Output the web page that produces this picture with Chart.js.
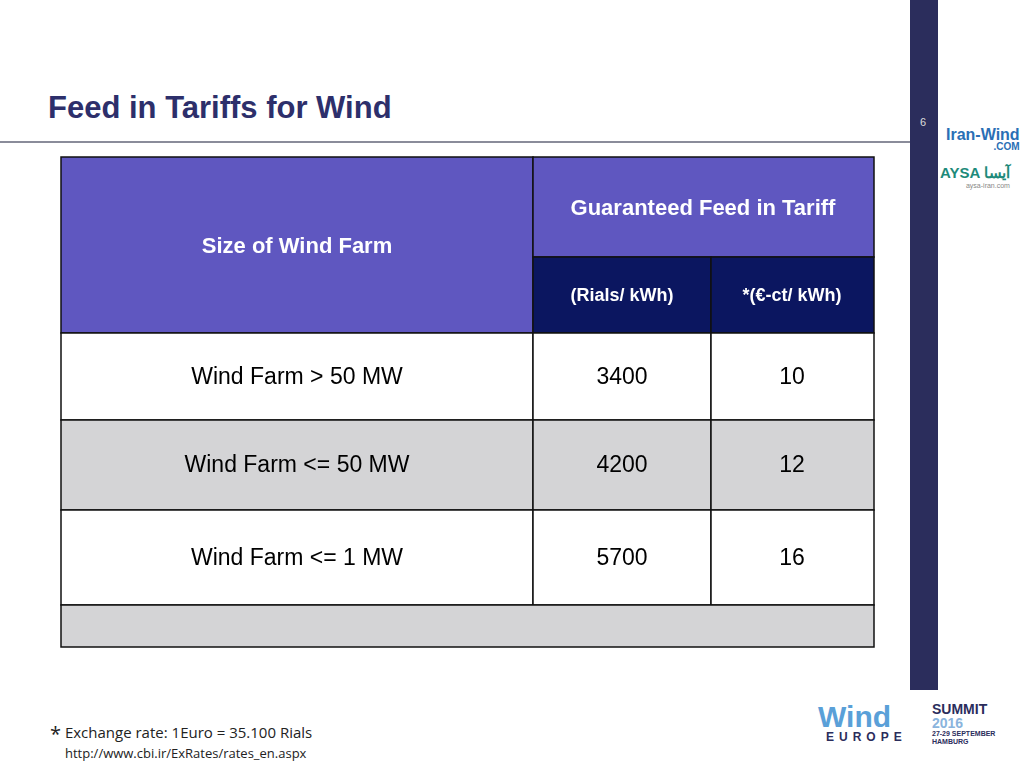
<!DOCTYPE html>
<html>
<head>
<meta charset="utf-8">
<script src="https://cdn.jsdelivr.net/npm/chart.js@4"></script>
<style>
  body { margin: 0; width: 1024px; height: 768px; position: relative; background: #fff; font-family: Arial, "Liberation Sans", sans-serif; overflow: hidden; }
  #title { position: absolute; left: 48px; top: 90px; font-size: 31px; font-weight: bold; color: #2d2f6b; }
  #rule { position: absolute; left: 0; top: 141px; width: 910px; height: 2px; background: #8a8c9a; }
  #sidebar { position: absolute; left: 910px; top: 0; width: 28px; height: 690px; background: #2b2d5c; }
  #page { position: absolute; left: 920px; top: 116px; font-size: 11px; color: #ddd; }
  #logo1 { position: absolute; left: 946px; top: 126px; font-size: 16px; font-weight: bold; color: #2a6fb5; white-space: nowrap; }
  #logo1 small { display: block; font-size: 10px; text-align: right; margin-top: -3px; }
  #logo2 { position: absolute; left: 940px; top: 164px; font-size: 15px; font-weight: bold; color: #1e8a7a; white-space: nowrap; }
  #logo2 small { display: block; font-size: 7px; color: #888; text-align: right; font-weight: normal; }
  #we { position: absolute; left: 818px; top: 700px; font-weight: bold; color: #5aa0d8; font-size: 30px; }
  #we small { display: block; font-size: 12px; color: #2b2d5c; letter-spacing: 5px; margin-top: -4px; padding-left: 8px; }
  #summit { position: absolute; left: 932px; top: 702px; font-weight: bold; color: #2b2d5c; font-size: 14px; line-height: 14px; }
  #summit .y { color: #8ab4dd; }
  #summit small { font-size: 7px; display: block; line-height: 8px; }
  #note { position: absolute; left: 50px; top: 720px; font-family: "Open Sans", sans-serif; font-size: 15px; color: #222; }
  #url { position: absolute; left: 65px; top: 744px; font-family: "Open Sans", sans-serif; font-size: 13px; color: #222; }
  #chart { position: absolute; left: 55px; top: 150px; }
</style>
</head>
<body>
<div id="title">Feed in Tariffs for Wind</div>
<div id="rule"></div>
<div id="sidebar"></div>
<div id="page">6</div>
<div id="logo1">Iran-Wind<small>.COM</small></div>
<div id="logo2">AYSA آیسا<small>aysa-iran.com</small></div>
<div id="we">Wind<small>EUROPE</small></div>
<div id="summit">SUMMIT<br><span class="y">2016</span><small>27-29 SEPTEMBER<br>HAMBURG</small></div>
<div id="note"><span style="font-size:20px;vertical-align:-3px">*</span> Exchange rate: 1Euro = 35.100 Rials</div>
<div id="url">http://www.cbi.ir/ExRates/rates_en.aspx</div>
<canvas id="chart" width="826" height="505"></canvas>
<script>
// table content
const categories = ['Wind Farm > 50 MW', 'Wind Farm <= 50 MW', 'Wind Farm <= 1 MW'];
const rials = [3400, 4200, 5700];
const euroCt = [10, 12, 16];
const headerMain = 'Size of Wind Farm';
const headerTariff = 'Guaranteed Feed in Tariff';
const unitLabels = ['(Rials/ kWh)', '*(€-ct/ kWh)'];

// grid edges (page pixels, mapped through the scales)
const colEdges = [61, 533, 711, 874];
const rowEdges = [157, 257, 333, 420, 510, 605, 647];
const rowFill = ['#ffffff', '#d4d4d6', '#ffffff', '#d4d4d6'];

const tablePlugin = {
    id: 'table',
    afterDraw(chart) {
        const { ctx, scales: { x, y } } = chart;
        const X = v => x.getPixelForValue(v);
        const Y = v => y.getPixelForValue(v);
        const rect = (x0, y0, x1, y1, fill) => {
            ctx.fillStyle = fill;
            ctx.fillRect(X(x0), Y(y0), X(x1) - X(x0), Y(y1) - Y(y0));
            ctx.strokeRect(X(x0), Y(y0), X(x1) - X(x0), Y(y1) - Y(y0));
        };
        const text = (s, cx, cy, font, color) => {
            ctx.font = font;
            ctx.fillStyle = color;
            ctx.textAlign = 'center';
            ctx.textBaseline = 'middle';
            ctx.fillText(s, X(cx), Y(cy));
        };
        ctx.save();
        ctx.strokeStyle = '#111';
        ctx.lineWidth = 1.5;
        // header
        rect(colEdges[0], rowEdges[0], colEdges[1], rowEdges[2], '#5f57c0');
        rect(colEdges[1], rowEdges[0], colEdges[3], rowEdges[1], '#5f57c0');
        rect(colEdges[1], rowEdges[1], colEdges[2], rowEdges[2], '#0b1660');
        rect(colEdges[2], rowEdges[1], colEdges[3], rowEdges[2], '#0b1660');
        const bold = s => `bold ${s}px Arial, "Liberation Sans", sans-serif`;
        const reg = s => `${s}px Arial, "Liberation Sans", sans-serif`;
        text(headerMain, 297, 247, bold(22), '#fff');
        text(headerTariff, 703, 209, bold(22), '#fff');
        text(unitLabels[0], 622, 296, bold(18), '#fff');
        text(unitLabels[1], 792, 296, bold(18), '#fff');
        // body rows
        categories.forEach((c, i) => {
            const y0 = rowEdges[i + 2], y1 = rowEdges[i + 3];
            for (let k = 0; k < 3; k++) rect(colEdges[k], y0, colEdges[k + 1], y1, rowFill[i]);
            const cy = [378, 466, 559][i];
            text(c, 297, cy, reg(23), '#000');
            text(String(rials[i]), 622, cy, reg(23), '#000');
            text(String(euroCt[i]), 792, cy, reg(23), '#000');
        });
        rect(colEdges[0], rowEdges[5], colEdges[3], rowEdges[6], rowFill[3]);
        ctx.restore();
    }
};

new Chart(document.getElementById('chart'), {
    type: 'scatter',
    data: { datasets: [{ data: [] }] },
    options: {
        responsive: false,
        animation: false,
        devicePixelRatio: 1,
        layout: { padding: 0 },
        plugins: { legend: { display: false }, tooltip: { enabled: false } },
        scales: {
            x: { type: 'linear', min: 55, max: 881, display: false },
            y: { type: 'linear', min: 150, max: 655, reverse: true, display: false }
        }
    },
    plugins: [tablePlugin]
});
</script>
</body>
</html>
